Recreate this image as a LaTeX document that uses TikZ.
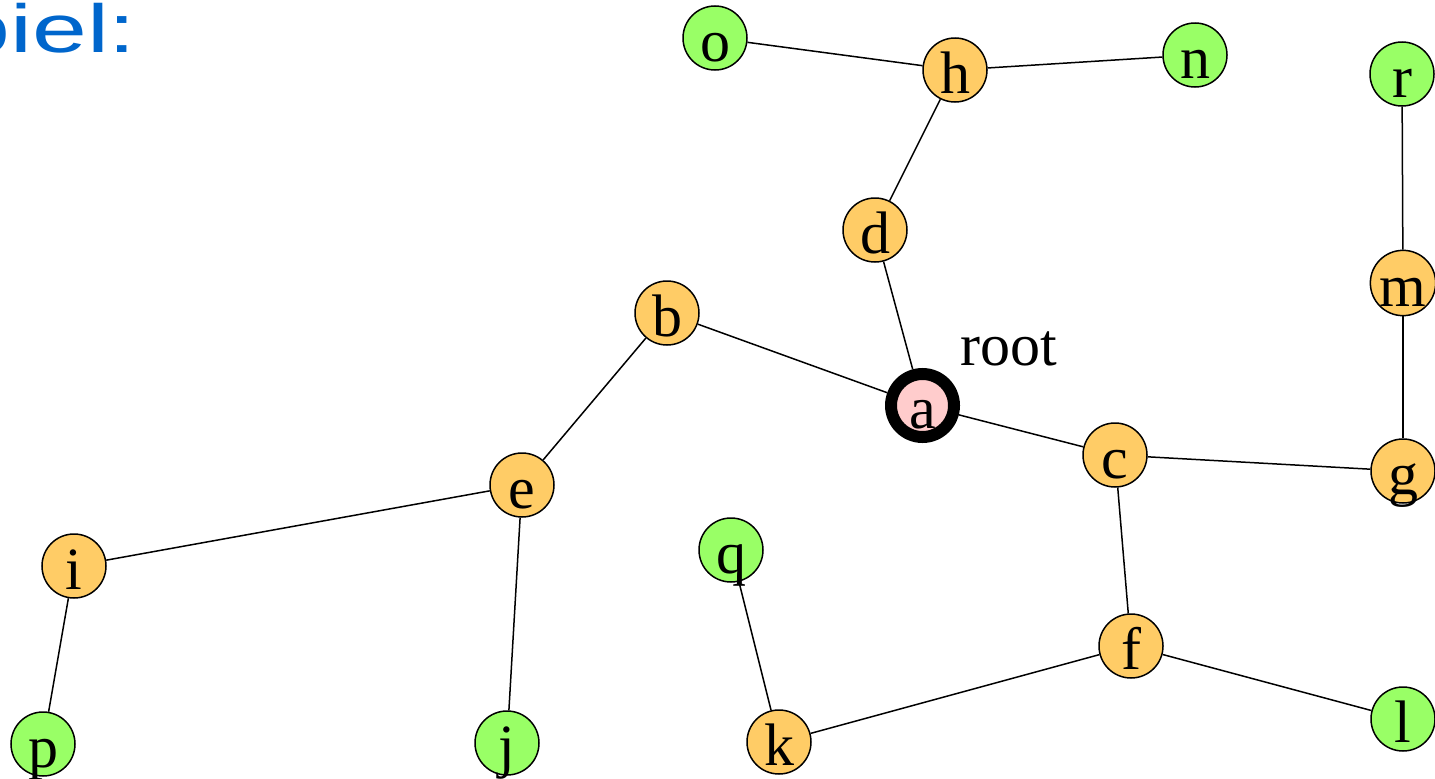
\documentclass[tikz,border=0pt]{standalone}
\usepackage{fontspec}
\setmainfont{Liberation Serif}
\newfontfamily\titlefont{Liberation Sans}
\definecolor{orangefill}{HTML}{FFCC66}
\definecolor{greenfill}{HTML}{99FF66}
\definecolor{pinkfill}{HTML}{FFCCCC}
\definecolor{titleblue}{HTML}{0066CC}
\begin{document}
\begin{tikzpicture}[x=1pt,y=-1pt,
  vtx/.style={circle, draw=black, line width=1.5pt, minimum size=64pt, inner sep=0pt,
    text height=46pt, text depth=0pt, font=\fontsize{60}{72}\selectfont},
  inner/.style={vtx, fill=orangefill},
  leaf/.style={vtx, fill=greenfill},
  rootv/.style={vtx, fill=pinkfill, line width=12pt, minimum size=63pt},
  edge/.style={line width=1.5pt}]
\useasboundingbox (0,0) rectangle (1435,779);
\node[font=\titlefont\fontsize{68}{80}\selectfont, text=titleblue, anchor=base east, inner sep=0pt] (title) at (136.6,52) {\scalebox{1.45}[1]{Beispiel:}};
\node[leaf] (o) at (715,38) {o};
\node[inner] (h) at (955,70) {h};
\node[leaf] (n) at (1195,55) {n};
\node[leaf] (r) at (1402,74) {r};
\node[inner] (d) at (875,230) {d};
\node[inner] (m) at (1403,283) {m};
\node[inner] (b) at (667,313) {b};
\node[rootv] (a) at (922.5,405.5) {a};
\node[inner] (c) at (1115,455) {c};
\node[inner] (g) at (1403,471) {g};
\node[inner] (e) at (522,485) {e};
\node[inner] (i) at (74,566) {i};
\node[leaf] (q) at (731,550) {q};
\node[inner] (f) at (1131,646) {f};
\node[leaf] (l) at (1403,719) {l};
\node[leaf] (p) at (43,744) {p};
\node[leaf] (j) at (507,743) {j};
\node[inner] (k) at (779,742) {k};
\node[anchor=base west, font=\fontsize{60}{72}\selectfont, inner sep=0pt] (rootlabel) at (960,365) {root};
\draw[edge] (o) -- (h);
\draw[edge] (h) -- (n);
\draw[edge] (h) -- (d);
\draw[edge] (d) -- (a);
\draw[edge] (b) -- (a);
\draw[edge] (b) -- (e);
\draw[edge] (a) -- (c);
\draw[edge] (c) -- (g);
\draw[edge] (g) -- (m);
\draw[edge] (m) -- (r);
\draw[edge] (e) -- (i);
\draw[edge] (e) -- (j);
\draw[edge] (i) -- (p);
\draw[edge] (c) -- (f);
\draw[edge] (f) -- (k);
\draw[edge] (f) -- (l);
\draw[edge] (q) -- (k);
\end{tikzpicture}
\end{document}
